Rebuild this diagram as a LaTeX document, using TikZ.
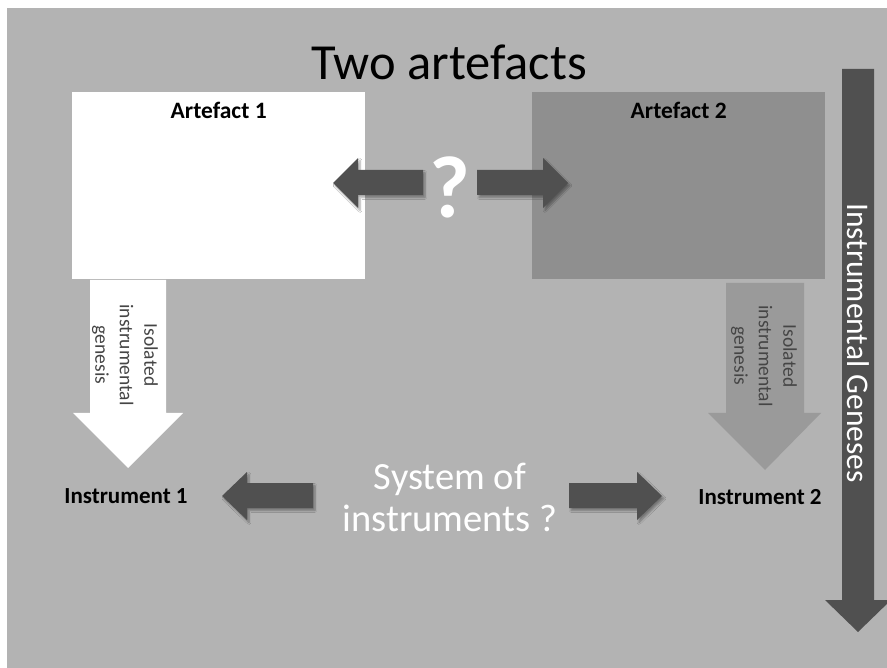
\documentclass[tikz,border=0pt]{standalone}
\usepackage{fontspec}
\setmainfont{Carlito}
\usetikzlibrary{shadows.blur}
\definecolor{bggrey}{HTML}{B3B3B3}
\definecolor{boxgrey}{HTML}{8F8F8F}
\definecolor{arrowdark}{HTML}{505050}
\definecolor{arrowmid}{HTML}{9A9A9A}
\definecolor{labelgrey}{HTML}{454545}
\tikzset{
  blockarrow/.style={fill=arrowdark, draw=none,
    blur shadow={shadow xshift=2pt, shadow yshift=-2.5pt, shadow blur steps=6, shadow opacity=35}},
  artbox/.style={anchor=north west, inner sep=0pt, minimum width=293pt, minimum height=187pt},
  artlabel/.style={anchor=north, inner sep=0pt, font=\bfseries\fontsize{23.5}{27}\selectfont},
  instr/.style={inner sep=0pt, font=\bfseries\fontsize{23}{27}\selectfont},
  genlabel/.style={rotate=-90, align=center, inner sep=0pt, text=labelgrey,
    font=\fontsize{19.5}{24.5}\selectfont},
  whitetext/.style={text=white, align=center, inner sep=0pt}
}
\begin{document}
\begin{tikzpicture}[x=1pt, y=-1pt]
  \useasboundingbox (0,0) rectangle (887,668);
  % page background
  \fill[white] (0,0) rectangle (887,668);
  \fill[bggrey] (7,8) rectangle (887,668);

  % title
  \node[inner sep=0pt, font=\fontsize{50.5}{56}\selectfont] (title) at (449,62) {Two artefacts};

  % the two artefacts
  \node[artbox, fill=white] (art1) at (72,92) {};
  \node[artbox, fill=boxgrey] (art2) at (532,92) {};
  \node[artlabel] (art1lbl) at ([yshift=-10pt]art1.north) {Artefact 1};
  \node[artlabel] (art2lbl) at ([yshift=-10pt]art2.north) {Artefact 2};

  % question between the artefacts
  \fill[blockarrow] (423,170) -- (358,170) -- (358,158) -- (333,183) -- (358,208) -- (358,195) -- (423,195) -- cycle;
  \fill[blockarrow] (477,170) -- (543,170) -- (543,158) -- (568,183) -- (543,208) -- (543,195) -- (477,195) -- cycle;
  \node[whitetext, font=\bfseries\fontsize{88}{88}\selectfont] (qmark) at (450,187) {?};

  % isolated instrumental geneses
  \fill[white] (90,280) -- (166,280) -- (166,413) -- (183,413) -- (128,468) -- (73,413) -- (90,413) -- cycle;
  \fill[arrowmid] (726,283) -- (804,283) -- (804,413) -- (821,413) -- (765,470) -- (708,413) -- (726,413) -- cycle;
  \node[genlabel] (gen1) at (125,355) {Isolated\\instrumental\\genesis};
  \node[genlabel] (gen2) at (764,356) {Isolated\\instrumental\\genesis};

  % instruments
  \node[instr] (ins1) at (126,496) {Instrument 1};
  \node[instr] (ins2) at (760,497) {Instrument 2};

  % system of instruments
  \fill[blockarrow] (313,483) -- (247,483) -- (247,472) -- (222,496) -- (247,520) -- (247,508) -- (313,508) -- cycle;
  \fill[blockarrow] (569,483) -- (637,483) -- (637,472) -- (662,496) -- (637,520) -- (637,508) -- (569,508) -- cycle;
  \node[whitetext, font=\fontsize{38.5}{42}\selectfont] (system) at (450,497) {System of\\instruments ?};

  % instrumental geneses bar
  \fill[arrowdark] (842,69) -- (874,69) -- (874,600) -- (891,600) -- (858,632) -- (825,600) -- (842,600) -- cycle;
  \node[whitetext, rotate=-90, font=\fontsize{31.5}{35}\selectfont] (geneses) at (858,343) {Instrumental Geneses};
\end{tikzpicture}
\end{document}
